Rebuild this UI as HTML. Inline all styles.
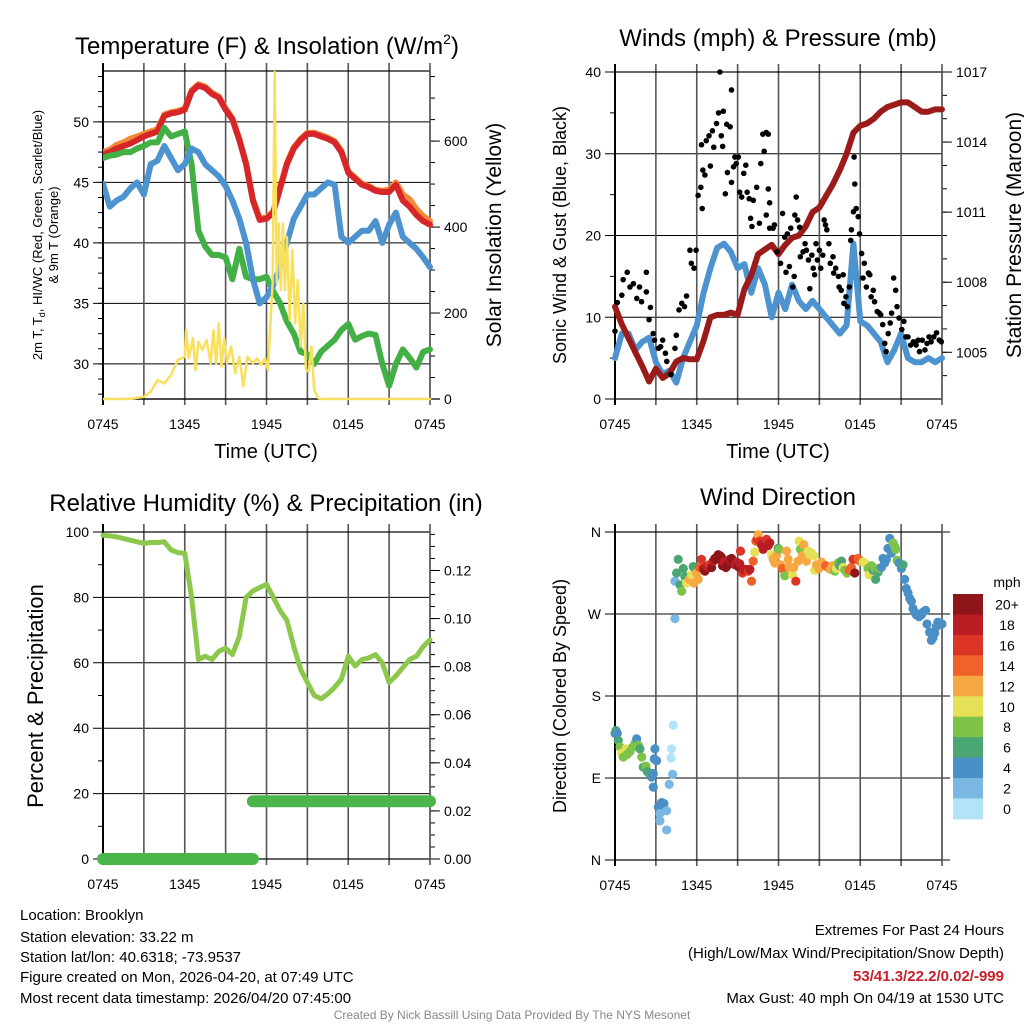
<!DOCTYPE html>
<html><head><meta charset="utf-8"><style>
body{margin:0;background:#fff;}
svg{display:block;font-family:"Liberation Sans",sans-serif;}
</style></head><body>
<svg id="c" width="1024" height="1024" viewBox="0 0 1024 1024" xmlns="http://www.w3.org/2000/svg">
<rect width="1024" height="1024" fill="#fff"/>
<text x="267" y="54" font-size="24" text-anchor="middle">Temperature (F) &amp; Insolation (W/m<tspan font-size="14" dy="-10">2</tspan><tspan dy="10">)</tspan></text>
<text x="778" y="46" font-size="24" text-anchor="middle">Winds (mph) &amp; Pressure (mb)</text>
<text x="266" y="511" font-size="24" text-anchor="middle">Relative Humidity (%) &amp; Precipitation (in)</text>
<text x="778" y="505" font-size="24" text-anchor="middle">Wind Direction</text>
<g id="g1"></g><g id="g2"></g><g id="g3"></g><g id="g4"></g>
<text x="266" y="458" font-size="20" text-anchor="middle">Time (UTC)</text>
<text x="778" y="458" font-size="20" text-anchor="middle">Time (UTC)</text>
<text transform="translate(42,235) rotate(-90)" font-size="13" text-anchor="middle">2m T, T<tspan font-size="9" dy="3">d</tspan><tspan dy="-3">, HI/WC (Red, Green, Scarlet/Blue)</tspan></text>
<text transform="translate(58,235) rotate(-90)" font-size="13" text-anchor="middle">&amp; 9m T (Orange)</text>
<text transform="translate(501,235) rotate(-90)" font-size="21" text-anchor="middle">Solar Insolation (Yellow)</text>
<text transform="translate(566,235) rotate(-90)" font-size="18" text-anchor="middle">Sonic Wind &amp; Gust (Blue, Black)</text>
<text transform="translate(1021,235) rotate(-90)" font-size="21" text-anchor="middle">Station Pressure (Maroon)</text>
<text transform="translate(43,696) rotate(-90)" font-size="22" text-anchor="middle">Percent &amp; Precipitation</text>
<text transform="translate(566,696) rotate(-90)" font-size="18" text-anchor="middle">Direction (Colored By Speed)</text>
<g font-size="15">
<text x="20" y="920">Location: Brooklyn</text>
<text x="20" y="942">Station elevation: 33.22 m</text>
<text x="20" y="962">Station lat/lon: 40.6318; -73.9537</text>
<text x="20" y="982">Figure created on Mon, 2026-04-20, at 07:49 UTC</text>
<text x="20" y="1003">Most recent data timestamp: 2026/04/20 07:45:00</text>
</g>
<g font-size="15" text-anchor="end">
<text x="1004" y="935">Extremes For Past 24 Hours</text>
<text x="1004" y="958">(High/Low/Max Wind/Precipitation/Snow Depth)</text>
<text x="1004" y="981" fill="#c8202a" font-weight="bold">53/41.3/22.2/0.02/-999</text>
<text x="1004" y="1003">Max Gust: 40 mph On 04/19 at 1530 UTC</text>
</g>
<text x="512" y="1019" font-size="12" fill="#888" text-anchor="middle">Created By Nick Bassill Using Data Provided By The NYS Mesonet</text>
</svg>
<script>
const hours=[0,0.5,1,1.5,2,2.5,3,3.5,4,4.5,5,5.5,6,6.5,7,7.5,8,8.5,9,9.5,10,10.5,11,11.5,12,12.5,13,13.5,14,14.5,15,15.5,16,16.5,17,17.5,18,18.5,19,19.5,20,20.5,21,21.5,22,22.5,23,23.5,24];
const timeLabels=["0745","1345","1945","0145","0745"];
const tempRed=[47.3,47.5,47.8,48.0,48.2,48.5,48.8,49.0,49.2,50.5,50.7,50.8,51.0,52.5,53.0,52.8,52.3,52.0,51.0,50.2,48.5,46.5,43.5,41.9,42.0,42.5,44.5,46.5,47.8,48.5,49,49,48.8,48.6,48.3,47.5,45.8,45.3,44.8,44.6,44.3,44.2,44.2,44.8,43.5,43.0,42.3,41.8,41.5];
const temp9m=[47.5,47.7,48.1,48.3,48.6,48.8,49.0,49.2,49.4,50.6,50.8,50.9,51.1,52.6,53.1,52.9,52.4,52.1,51.1,50.3,48.6,46.6,43.6,42.0,42.1,42.6,44.6,46.6,47.9,48.6,49.1,49.1,48.9,48.7,48.4,47.6,45.9,45.4,44.9,44.7,44.4,44.3,44.4,45.0,44.0,43.6,42.8,42.2,41.8];
const dewpoint=[47,47.2,47.3,47.5,47.5,47.8,48,48.3,48.3,49.5,48.8,49,49.2,46.5,41,39.7,39,39,38.8,37,39.5,37.2,37,37,37.2,36,35,33.5,32.5,31,30.8,30,31,31.5,32,32.8,33.3,32,32.3,32.5,32.4,30,28.2,30,31.2,30.5,29.7,31,31.2];
const windChill=[44.9,43,43.5,43.8,44.5,45,44,46.5,46.8,48,47,46,46.5,47.8,47.5,46.5,46,45.5,44.7,43.5,42,40,37,35,35.5,36.5,38,40,42,43,44,44,44.5,45,44.8,40.5,40,40.5,41,41,41.8,40,41.5,42.5,40.5,40,39.5,38.8,38];
const solarHours=[0,2,2.5,3,3.5,4,4.5,5,5.5,6,6.1,6.3,6.6,6.8,7,7.3,7.6,7.9,8.1,8.3,8.5,8.7,8.9,9.1,9.4,9.7,10,10.3,10.6,11,11.3,11.6,11.9,12.1,12.3,12.45,12.6,12.75,12.9,13.05,13.2,13.35,13.5,13.7,13.9,14.1,14.3,14.5,14.7,14.9,15.1,15.3,15.5,15.8,16,24];
const solarVals=[0,0,3,5,17,44,36,56,91,98,160,95,141,67,133,114,137,83,160,83,176,75,141,83,122,60,98,29,98,83,95,79,95,67,184,269,761,269,408,253,408,253,377,184,346,176,277,122,222,67,64,122,21,2,0,0];
const tempTicks=[30,35,40,45,50];
const solarTicks=[0,200,400,600];
const windSpeed=[5,8,8,6,7,7.5,4.5,3,3.5,2,5,7,9,13,16,18.5,19,18,16,16.5,13,16,14,10,13,11,14,12,11,12,11,10,9,8,9,19,9.5,9,8,7,4.5,6,8,5,4.5,4.5,5,4.5,5];
const pressure=[1006.95,1006.2,1005.6,1005.0,1004.4,1003.75,1004.3,1003.9,1004.1,1004.6,1004.75,1004.7,1004.7,1005.5,1006.5,1006.6,1006.6,1006.7,1006.6,1007.7,1008.3,1009.2,1009.4,1009.6,1009.2,1009.6,1009.9,1010.0,1010.4,1011.0,1011.2,1011.7,1012.2,1012.8,1013.5,1014.4,1014.7,1014.8,1015.0,1015.3,1015.5,1015.6,1015.7,1015.7,1015.5,1015.3,1015.3,1015.4,1015.4];
const gustHours=[0,0.17,0.5,0.6,0.9,1.1,1.35,1.6,1.8,1.95,2.3,2.3,2.5,2.6,2.8,2.9,3.2,3.35,3.5,3.7,3.8,4.1,4.4,4.5,4.7,4.9,5.1,5.25,5.5,5.6,5.8,5.95,6.1,6.3,6.4,6.45,6.6,6.35,6.7,6.9,7.0,7.15,7.25,7.45,7.6,7.7,7.8,7.9,7.95,8.1,8.2,8.25,8.45,8.55,8.55,8.7,8.8,8.9,9.05,9.15,9.3,9.45,9.6,9.7,9.85,9.95,10.05,10.15,10.4,10.6,10.7,10.85,10.95,11.1,11.25,11.1,11.25,11.35,11.35,11.6,11.7,11.9,12.15,12.3,12.45,12.55,12.65,12.8,12.9,13.05,13.15,13.2,13.3,13.4,13.55,13.6,13.8,13.95,14.05,14.2,14.3,14.45,14.55,14.65,14.75,14.85,15.0,15.1,15.25,15.35,15.45,15.55,15.7,15.8,16.0,16.05,16.2,16.4,16.45,16.6,16.75,16.8,16.95,17.05,17.2,17.3,17.35,17.5,17.55,17.6,17.7,17.85,17.95,18.1,18.2,18.3,18.45,18.6,18.7,18.8,18.95,19.05,19.25,19.4,19.5,19.65,19.8,19.9,20.05,20.2,20.3,20.45,20.6,20.7,20.85,21.05,21.2,21.35,21.5,21.7,21.9,22.1,22.25,22.35,22.55,22.75,22.9,23.05,23.2,23.4,23.6,23.8,23.95];
const gustVals=[8.3,11.8,12.7,14.6,15.5,13.7,14.1,12.3,13.7,11.9,15.5,13.1,9.7,11.2,8.0,7.2,6.2,6.4,7.2,5.6,4.6,3.0,6.2,7.8,10.9,11.7,11.3,12.6,18.2,16.6,16.0,18.2,24.9,25.9,23.3,28,27.4,31.1,31.6,32.2,28.5,32.8,30.8,33.7,35.0,40,32.2,30.9,35.2,25.1,33.6,27.7,33.3,37.8,26.5,28.4,29.6,28.8,29.6,25.3,24.7,27.6,28.6,25.3,24.5,22.1,21.1,24.3,25.9,21.5,28.8,32.4,30.3,32.6,32.4,22.5,25.7,24.0,20.9,20.9,21.3,18.0,16.6,22.7,19.8,15.5,20.2,16.2,20.9,13.7,15.0,22.5,24.7,21.9,21.0,17.4,18.0,19.0,18.2,17.0,13.5,17.6,16.0,15.2,19.0,17.0,18.2,16.0,17.6,21.9,21.3,20.7,19.0,16.6,17.4,15.4,16.0,15.0,13.7,13.3,15.2,11.7,12.5,11.3,13.7,19.4,20.7,22.9,29.6,26.3,23.3,22.3,20.2,17.8,14.8,16.6,13.7,15.4,15.2,12.5,13.3,11.9,10.7,10.5,10.3,9.1,6.8,5.8,8.0,9.3,10.5,14.8,13.3,11.3,9.9,8.5,9.5,7.6,7.6,6.6,7.0,6.6,7.2,5.8,7.2,6.0,6.8,7.6,7.0,7.6,8.1,7.2,7.0];
const windTicks=[0,10,20,30,40];
const pressTicks=[1005,1008,1011,1014,1017];
const rh=[99,98.8,98.5,98,97.5,97,96.5,96.8,96.8,97,94.5,93.7,93.5,80,61,62,61,63.5,64.5,62.5,68,80,82,83,84,80,76,73,65,58,54,50,49,50.5,52.5,55,62,59,61,61.5,62.5,60,54,56,58.5,61,62,65,67];
const precipHours=[0,11,11,24];
const precipVals=[0,0,0.024,0.024];
const rhTicks=[0,20,40,60,80,100];
const precipTicks=["0.00","0.02","0.04","0.06","0.08","0.10","0.12"];
const dirHours=[0,0.07,0.17,0.24,0.37,0.49,0.61,0.81,0.9,1.1,1.3,1.47,1.59,1.71,1.83,1.96,2.08,2.27,2.37,2.52,2.69,2.81,2.93,2.88,3.05,2.81,3.18,3.3,3.42,3.59,3.79,3.3,3.79,3.98,4.11,4.15,4.23,4.28,4.4,4.4,4.52,4.64,4.77,4.89,5.01,5.13,5.25,5.45,5.62,5.74,5.79,5.99,6.11,6.23,6.35,6.48,6.6,6.72,6.92,7.09,7.21,7.33,7.45,7.58,7.7,7.82,7.89,7.99,8.14,8.31,8.43,8.55,8.68,8.8,8.92,9.04,9.16,9.21,9.36,9.46,9.6,9.78,9.9,10.02,10.14,10.26,10.34,10.43,10.51,10.63,10.75,10.88,11.0,11.12,11.24,11.36,11.49,11.61,11.73,11.85,11.97,12.05,12.15,12.29,12.46,12.59,12.71,12.78,12.88,13.03,13.12,13.27,13.44,13.51,13.61,13.76,13.86,14.05,14.17,14.3,14.42,14.59,14.66,14.79,14.98,15.15,15.32,15.47,15.64,15.81,15.96,16.13,16.25,16.37,16.5,16.62,16.74,16.86,17.03,17.18,17.35,17.47,17.6,17.72,17.84,18.01,18.21,18.4,18.57,18.65,18.82,18.94,19.06,19.13,19.31,19.38,19.55,19.67,19.79,19.92,20.04,20.16,20.28,20.41,20.53,20.6,20.7,20.85,21.02,21.14,21.26,21.38,21.51,21.63,21.75,21.87,21.99,22.12,22.31,22.48,22.61,22.8,22.9,23.09,23.22,23.34,23.46,23.58,23.7,23.88,24];
const dirDeg=[139,142,139,131,124,117,113,122,116,119,124,128,133,126,122,113,102,103,97,95,91,95,122,111,109,80,58,51,63,62,54,43,33,83,112,122,94,148,265,306,315,330,302,295,320,311,304,308,313,322,304,315,308,321,330,320,317,322,324,321,328,331,330,335,334,332,323,327,321,324,330,331,328,324,327,322,325,339,315,318,319,317,319,306,328,338,350,352,357,350,346,341,348,352,345,348,335,330,326,334,342,341,324,320,312,339,330,322,319,313,321,306,328,350,341,334,346,328,339,335,337,334,318,324,320,327,324,323,321,319,323,317,320,326,323,328,321,318,315,318,321,330,315,330,331,328,327,325,320,313,323,318,320,308,316,320,321,331,326,330,342,353,337,348,344,341,329,326,320,324,308,298,293,287,284,276,272,269,267,269,272,274,259,250,241,244,249,256,261,259,259];
const dirSpeed=[4,6,4,6,8,10,8,10,8,8,8,8,4,8,6,8,6,8,6,6,4,4,4,4,4,4,4,2,4,4,2,2,2,2,0,0,2,0,2,2,6,6,6,8,6,6,10,12,10,6,12,12,12,14,16,18,20,18,16,20,18,20,20,20,20,20,20,18,20,20,18,20,20,18,18,20,18,16,16,18,18,16,18,14,14,10,14,16,12,16,18,18,18,16,18,18,10,12,12,12,6,8,12,14,8,12,12,12,12,10,12,16,12,10,8,12,12,12,10,10,10,10,10,12,12,12,12,14,14,12,12,8,10,8,6,6,10,8,8,14,14,16,20,16,14,14,10,10,8,10,8,6,8,6,6,8,4,4,4,4,4,4,4,8,8,8,8,4,4,6,4,4,4,4,4,4,4,4,4,4,4,4,4,4,4,4,4,4,4,4,4];
const dirTicks=["N","E","S","W","N"];
const speedLabels=["20+","18","16","14","12","10","8","6","4","2","0"];
const speedColors=["#8e1519","#bb1d24","#dc3528","#ef632b","#f6a843","#e5e055","#7dc34a","#4aa673","#4a8fc6","#7ab8e3","#b3e3f7"];

const NS="http://www.w3.org/2000/svg";
function mk(parent,tag,attrs){const e=document.createElementNS(NS,tag);for(const k in attrs)e.setAttribute(k,attrs[k]);parent.appendChild(e);return e;}
function frame(g,x0,x1,y0,y1,pfx){
  for(let i=1;i<8;i++){const x=x0+(x1-x0)*i/8;const l=mk(g,'line',{x1:x,x2:x,y1:y0-8,y2:y1+6,stroke:'#555','stroke-width':1.6});
    
    }
  const r=mk(g,'rect',{x:x0,y:y0,width:x1-x0,height:y1-y0,fill:'none',stroke:'#000','stroke-width':1.2});
  
  
  mk(g,'line',{x1:x0,x2:x0,y1:y0-8,y2:y1+6,stroke:'#000','stroke-width':2});
  mk(g,'line',{x1:x1,x2:x1,y1:y0-8,y2:y1+6,stroke:'#555','stroke-width':1.6});
  timeLabels.forEach((t,i)=>{const tx=mk(g,'text',{x:x0+(x1-x0)*i/4,y:y1+30,'font-size':14,'text-anchor':'middle'});tx.textContent=t;
    
    });
}
function hline(g,x0,x1,y,pfx){const l=mk(g,'line',{x1:x0-10,x2:x1,y1:y,y2:y,stroke:'#000','stroke-width':1});
  
  }
function lbl(g,x,y,t,anchor,pfx){const tx=mk(g,'text',{x:x,y:y+5,'font-size':14,'text-anchor':anchor});tx.textContent=t;
  
  }
function tick(g,x,y,len){mk(g,'line',{x1:x,x2:x+len,y1:y,y2:y,stroke:'#000','stroke-width':1});}
function poly(g,xs,ys,sx,sy,color,w,name){const pts=xs.map((h,i)=>sx(h).toFixed(1)+','+sy(ys[i]).toFixed(1)).join(' ');
  const p=mk(g,'polyline',{points:pts,fill:'none',stroke:color,'stroke-width':w,'stroke-linejoin':'round','stroke-linecap':'round'});
  
  return p;}

// Panel 1
(function(){const g=document.getElementById('g1');const x0=103,x1=430,y0=71,y1=399;
 const sx=h=>x0+(x1-x0)*h/24, sy=t=>y1-(t-27.1)/(54.2-27.1)*(y1-y0), ss=w=>y1-Math.min(w,763)/763*(y1-y0);
 tempTicks.forEach(t=>{hline(g,x0,x1,sy(t),'temperature');lbl(g,x0-14,sy(t),String(t),'end','temperature-y-tick-label');});
 for(let t=27.5;t<54.2;t+=1.25){tick(g,x0,sy(t),-5);}
 mk(g,'line',{x1:x0,x2:x1+10,y1:y1,y2:y1,stroke:'#000','stroke-width':1.2});
 solarTicks.forEach(w=>{tick(g,x1,ss(w),10);lbl(g,x1+14,ss(w),String(w),'start','solar-y-tick-label');});
 for(let w=50;w<763;w+=50){tick(g,x1,ss(w),5);}
 frame(g,x0,x1,y0,y1,'temperature');
 const cp=mk(g,'clipPath',{id:'cp1'});mk(cp,'rect',{x:x0,y:y0-2,width:x1-x0+3,height:y1-y0+4});
 const gg=mk(g,'g',{'clip-path':'url(#cp1)'});
 poly(gg,hours,temp9m,sx,sy,'#f58a34',6,'temp-9m-line');
 poly(gg,hours,tempRed,sx,sy,'#d7262a',6,'temp-2m-line');
 poly(gg,hours,dewpoint,sx,sy,'#43b045',6,'dewpoint-line');
 poly(gg,hours,windChill,sx,sy,'#4d93cf',6,'wind-chill-line');
 poly(gg,solarHours,solarVals,sx,ss,'#f8e05c',2.5,'solar-insolation-line');
})();
// Panel 2
(function(){const g=document.getElementById('g2');const x0=615,x1=942,y0=72,y1=399;
 const sx=h=>x0+(x1-x0)*h/24, sy=v=>y1-v/40*(y1-y0), sp=p=>y1-(p-1003)/14*(y1-y0);
 windTicks.forEach(v=>{hline(g,x0,x1,sy(v),'wind');lbl(g,x0-14,sy(v),String(v),'end','wind-y-tick-label');});
 for(let v=5;v<40;v+=10){tick(g,x0,sy(v),-5);}
 pressTicks.forEach(p=>{tick(g,x1,sp(p),10);lbl(g,x1+14,sp(p),String(p),'start','pressure-y-tick-label');});
 for(let p=1004;p<1017;p+=1){tick(g,x1,sp(p),5);}
 frame(g,x0,x1,y0,y1,'wind');
 poly(g,hours,windSpeed,sx,sy,'#4d93cf',6,'sonic-wind-line');
 poly(g,hours,pressure,sx,sp,'#9b1b1b',6,'pressure-line');
 gustHours.forEach((h,i)=>{const c=mk(g,'circle',{cx:sx(h),cy:sy(gustVals[i]),r:2.8,fill:'#000'});
   
   });
})();
// Panel 3
(function(){const g=document.getElementById('g3');const x0=103,x1=430,y0=532,y1=859;
 const sx=h=>x0+(x1-x0)*h/24, sy=v=>y1-v/100*(y1-y0), sq=p=>y1-p/0.136*(y1-y0);
 rhTicks.forEach(v=>{hline(g,x0,x1,sy(v),'humidity');lbl(g,x0-14,sy(v),String(v),'end','humidity-y-tick-label');});
 for(let v=10;v<100;v+=20){tick(g,x0,sy(v),-5);}
 precipTicks.forEach(p=>{tick(g,x1,sq(+p),10);lbl(g,x1+14,sq(+p),p,'start','precip-y-tick-label');});
 for(let p=0.005;p<0.136;p+=0.005){tick(g,x1,sq(p),5);}
 frame(g,x0,x1,y0,y1,'humidity');
 poly(g,hours,rh,sx,sy,'#8cc84b',5,'relative-humidity-line');
 for(let i=0;i<precipHours.length-1;i++){if(precipVals[i]===precipVals[i+1]){
   const l=mk(g,'line',{x1:sx(precipHours[i]),x2:sx(precipHours[i+1]),y1:sq(precipVals[i]),y2:sq(precipVals[i+1]),stroke:'#4ab54a','stroke-width':12,'stroke-linecap':'round'});
   
   }}
})();
// Panel 4
(function(){const g=document.getElementById('g4');const x0=615,x1=942,y0=532,y1=860;
 const sx=h=>x0+(x1-x0)*h/24, sy=d=>y1-d/360*(y1-y0);
 dirTicks.forEach((t,i)=>{const y=sy(i*90);const l=mk(g,'line',{x1:x0-10,x2:x1+8,y1:y,y2:y,stroke:'#000','stroke-width':1});
   
   
   lbl(g,x0-14,y,t,'end','direction-y-tick-label');});
 frame(g,x0,x1,y0,y1,'direction');
 dirHours.forEach((h,i)=>{const idx=10-Math.min(10,Math.floor(dirSpeed[i]/2));
   const c=mk(g,'circle',{cx:sx(h),cy:sy(dirDeg[i]),r:4.6,fill:speedColors[idx]});
   
   });
 const cb=mk(g,'g',{});
 
 
 const t=mk(cb,'text',{x:1007,y:587,'font-size':14,'text-anchor':'middle'});t.textContent='mph';
 speedLabels.forEach((s,i)=>{const y=594+i*20.45;
   const r=mk(cb,'rect',{x:953,y:y,width:30,height:20.9,fill:speedColors[i]});
   
   
   const tx=mk(cb,'text',{x:1007,y:y+15.5,'font-size':14,'text-anchor':'middle'});tx.textContent=s;
   
   });
})();
</script>
</body></html>
